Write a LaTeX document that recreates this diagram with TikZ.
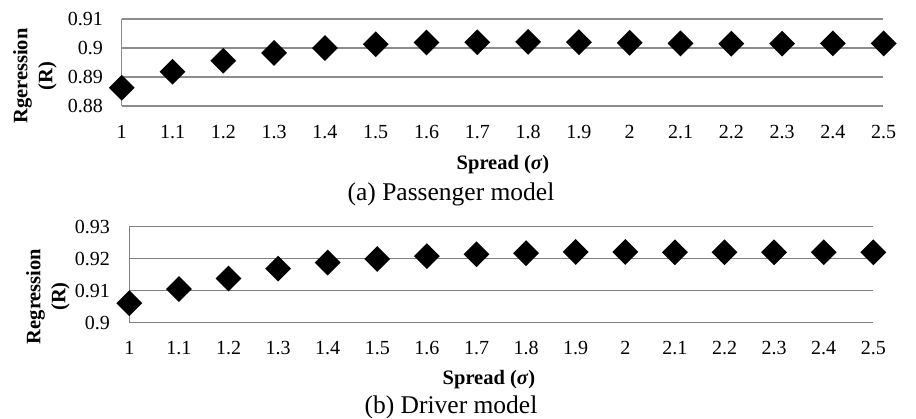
\documentclass[tikz,border=0pt]{standalone}
\usepackage{fontspec}
\setmainfont{Liberation Serif}
\usetikzlibrary{shapes.geometric}
\begin{document}
\begin{tikzpicture}[x=1pt,y=-1pt,
  gridln/.style={draw=black!45,line width=1.1pt},
  gridlnb/.style={draw=black!50,line width=1.5pt},
  mk/.style={diamond,fill=black,inner sep=0pt,minimum width=26pt,minimum height=26pt},
  ticklab/.style={font=\fontsize{20}{20}\selectfont,inner sep=0pt},
  axlab/.style={font=\fontsize{20.5}{25}\selectfont\bfseries,inner sep=0pt},
  captxt/.style={font=\fontsize{25.5}{25.5}\selectfont,inner sep=0pt}]
\useasboundingbox (0,0) rectangle (916,419);
% ---------- top chart ----------
\foreach \k/\v in {0/0.91,1/0.9,2/0.89,3/0.88}{
  \draw[gridln] (121.7,{19+\k*29}) -- (882.7,{19+\k*29});
  \node[ticklab,anchor=east] (ty\k) at (103,{19+\k*29}) {\v};
}
\draw[gridln] (121.7,19) -- (121.7,106);
\foreach \l [count=\i from 0] in {1,1.1,1.2,1.3,1.4,1.5,1.6,1.7,1.8,1.9,2,2.1,2.2,2.3,2.4,2.5}{
  \node[ticklab,anchor=base] (tx\i) at ({121.7+\i*50.8},138.3) {\l};
}
\foreach \v [count=\i from 0] in {0.8863,0.8918,0.8956,0.8983,0.9000,0.9013,0.9019,0.9020,0.9021,0.9020,0.9018,0.9016,0.9015,0.9015,0.9016,0.9016}{
  \node[mk] (tp\i) at ({121.7+\i*50.8},{106-(\v-0.88)*2900}) {};
}
\node[axlab,anchor=base] (txl) at (503,170) {Spread (\textit{σ})};
\node[axlab,rotate=90,align=center] (tyl) at (35,76) {Rgeression\\(R)};
\node[captxt,anchor=base] (tcap) at (451,200.5) {(a) Passenger model};
% ---------- bottom chart ----------
\foreach \k/\v in {0/0.93,1/0.92,2/0.91,3/0.9}{
  \draw[gridlnb] (129.3,{226.7+\k*32}) -- (873.3,{226.7+\k*32});
  \node[ticklab,anchor=east] (by\k) at (110,{226.7+\k*32}) {\v};
}
\draw[gridlnb] (129.3,226.7) -- (129.3,322.7);
\foreach \l [count=\i from 0] in {1,1.1,1.2,1.3,1.4,1.5,1.6,1.7,1.8,1.9,2,2.1,2.2,2.3,2.4,2.5}{
  \node[ticklab,anchor=base] (bx\i) at ({129.3+\i*49.6},355) {\l};
}
\foreach \v [count=\i from 0] in {0.9061,0.9105,0.9138,0.9169,0.9188,0.9199,0.9208,0.9214,0.9217,0.9221,0.9221,0.9220,0.9220,0.9220,0.9220,0.9220}{
  \node[mk] (bp\i) at ({129.3+\i*49.6},{322.7-(\v-0.90)*3200}) {};
}
\node[axlab,anchor=base] (bxl) at (489,385) {Spread (\textit{σ})};
\node[axlab,rotate=90,align=center] (byl) at (48,296.5) {Regression\\(R)};
\node[captxt,anchor=base] (bcap) at (451,414) {(b) Driver model};
\end{tikzpicture}
\end{document}
